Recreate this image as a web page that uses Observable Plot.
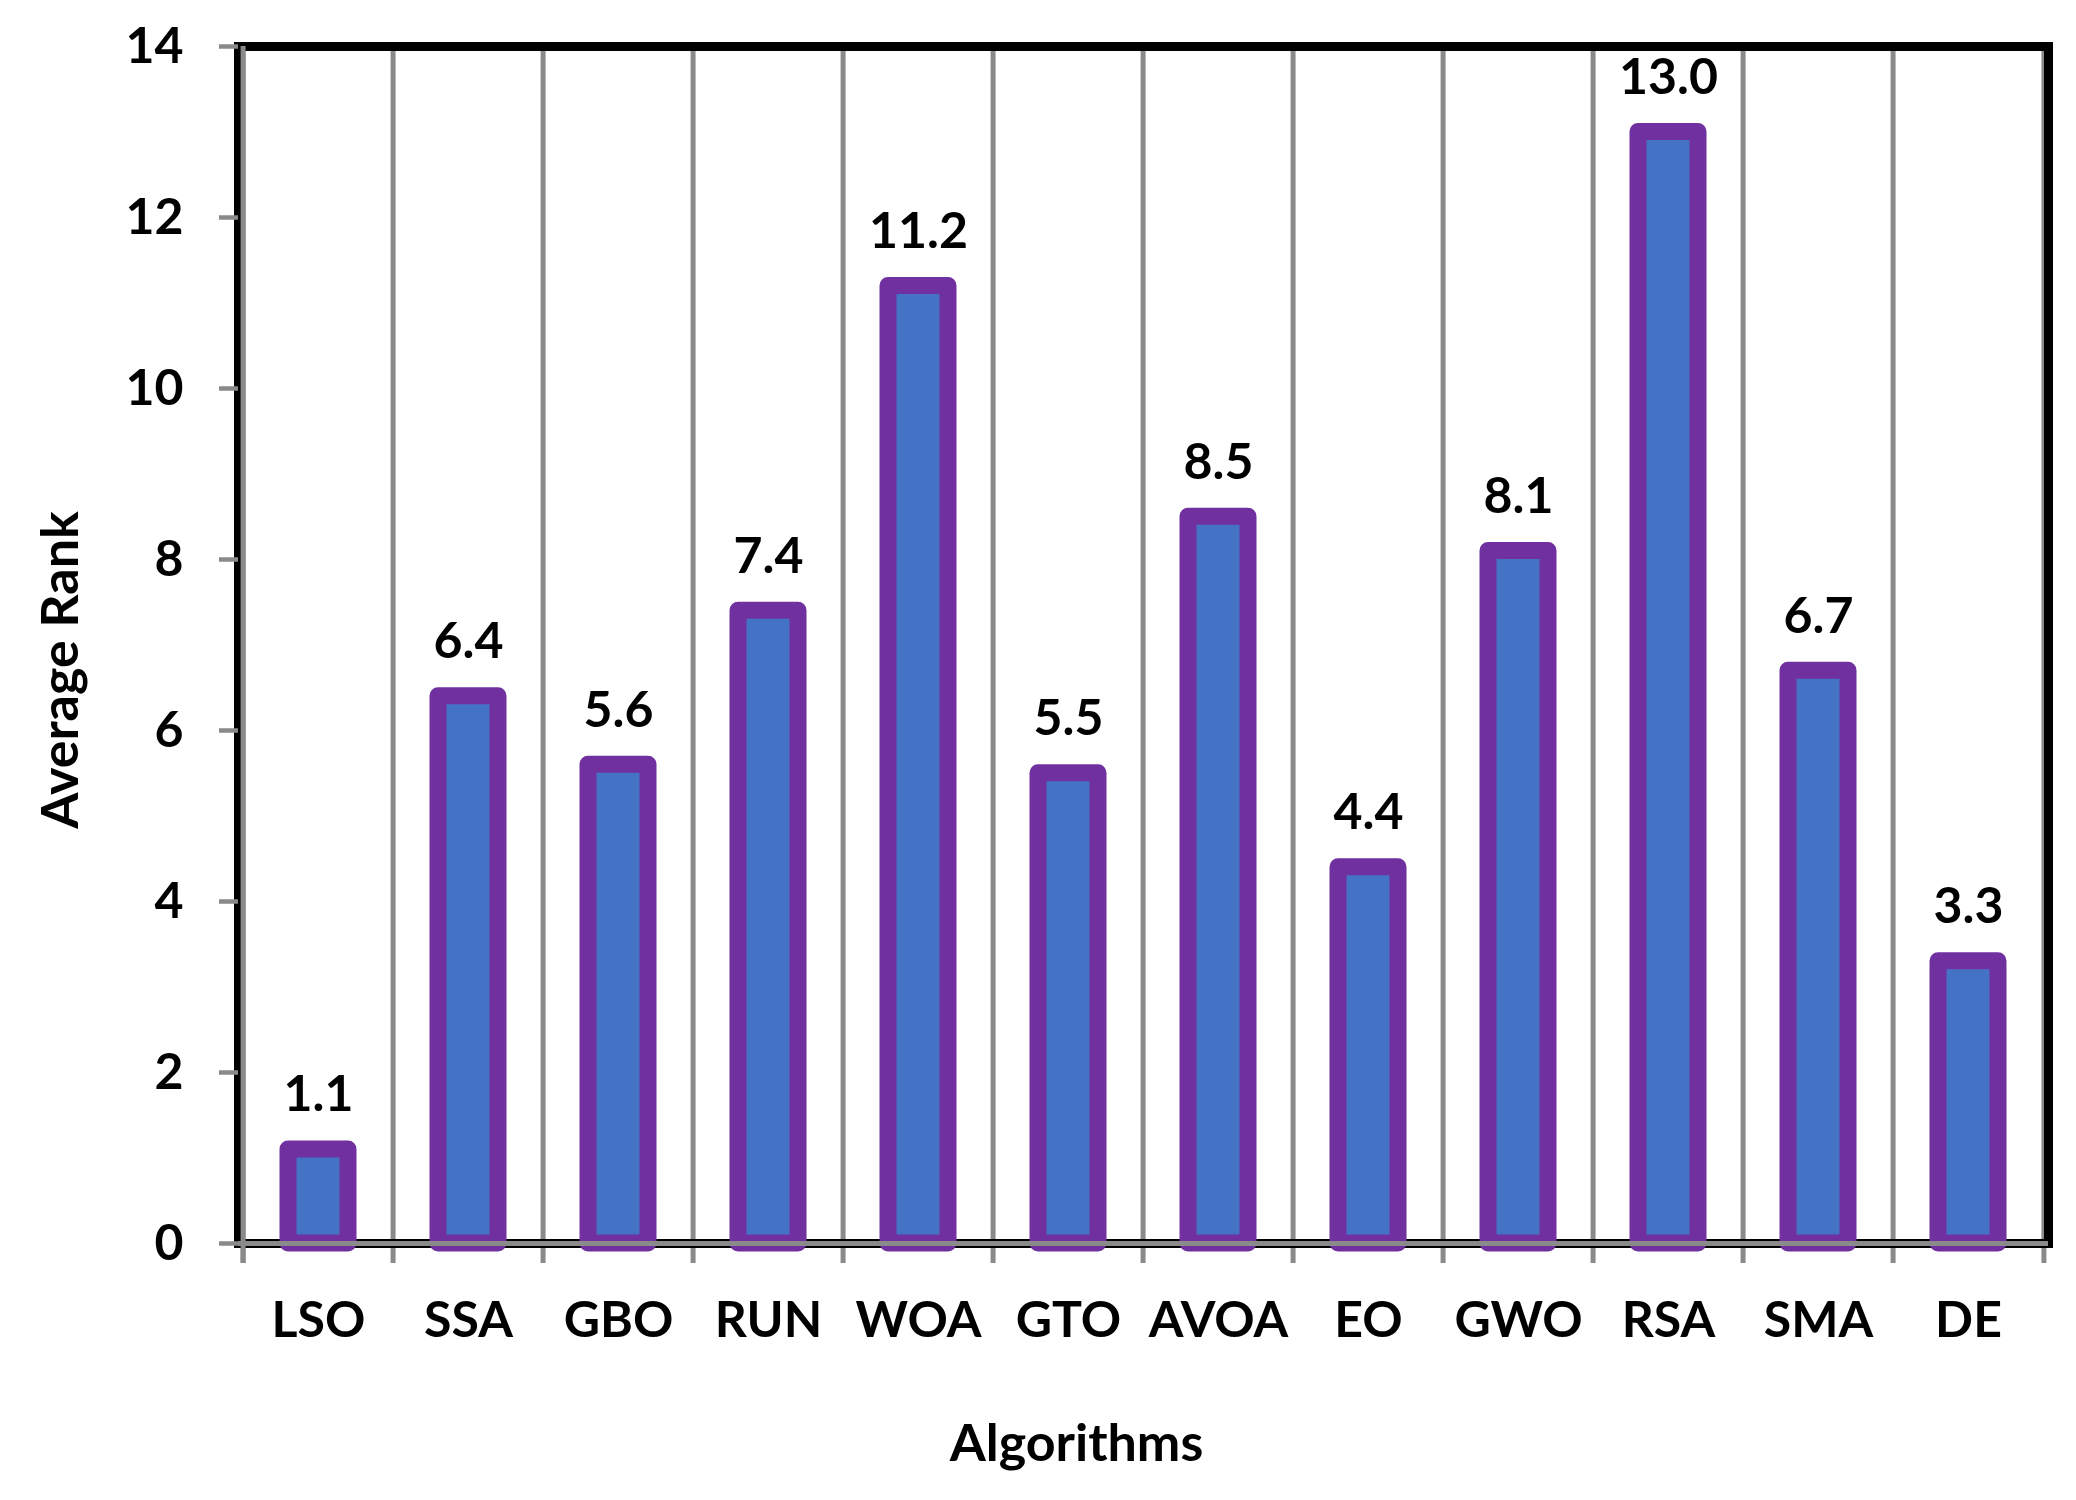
<!DOCTYPE html>
<html>
<head>
<meta charset="utf-8">
<script src="https://cdn.jsdelivr.net/npm/d3@7"></script>
<script src="https://cdn.jsdelivr.net/npm/@observablehq/plot@0.6"></script>
<style>
  html, body { margin: 0; padding: 0; background: #ffffff; }
  #chart svg { display: block; }
</style>
</head>
<body>
<div id="chart"></div>
<script>
const categories = ["LSO", "SSA", "GBO", "RUN", "WOA", "GTO", "AVOA", "EO", "GWO", "RSA", "SMA", "DE"];
const values = [1.1, 6.4, 5.6, 7.4, 11.2, 5.5, 8.5, 4.4, 8.1, 13.0, 6.7, 3.3];
const yTicks = [0, 2, 4, 6, 8, 10, 12, 14];
const xTitle = "Algorithms";
const yTitle = "Average Rank";

const data = categories.map((name, i) => ({name, value: values[i]}));

const W = 2076, H = 1500;
const ML = 238, MR = 28, MT = 46, MB = 257;
const bw = (W - ML - MR) / categories.length;
const gray = "#8a8a8a";
const fmt = d3.format(".1f");
const FS = 50;

const chart = Plot.plot({
  width: W,
  height: H,
  marginLeft: ML,
  marginRight: MR,
  marginTop: MT,
  marginBottom: MB,
  style: {fontFamily: "Lato, 'Open Sans', sans-serif", background: "#ffffff", overflow: "visible"},
  x: {domain: categories, padding: 0, axis: null},
  y: {domain: [0, 14]},
  marks: [
    // vertical gridlines at category boundaries
    Plot.ruleX(categories, {x: d => d, dx: -bw / 2, y1: 14, y2: 0, insetBottom: -20, stroke: gray, strokeWidth: 5}),
    Plot.ruleX([categories[categories.length - 1]], {x: d => d, dx: bw / 2, y1: 14, y2: 0, insetBottom: -20, stroke: gray, strokeWidth: 5}),
    // plot area border
    Plot.frame({stroke: "#000000", strokeWidth: 9}),
    // bars
    Plot.barY(data, {x: "name", y: "value", fill: "#4472c4", stroke: "#7030a0", strokeWidth: 17, strokeLinejoin: "round", insetLeft: 45, insetRight: 45}),
    // axis lines
    Plot.ruleX([categories[0]], {x: d => d, dx: -bw / 2, y1: 14, y2: 0, insetBottom: -20, stroke: gray, strokeWidth: 5}),
    Plot.ruleY([0], {stroke: gray, strokeWidth: 5}),
    Plot.axisY({ticks: yTicks, tickSize: 19, tickPadding: 36, stroke: gray, strokeWidth: 4.5, fontSize: FS, fontWeight: "bold", label: null}),
    // value labels
    Plot.text(data, {x: "name", y: "value", text: d => fmt(d.value), dy: -38, lineAnchor: "bottom", fontSize: FS, fontWeight: "bold", fill: "#000000"}),
    // category labels
    Plot.text(categories, {x: d => d, frameAnchor: "bottom", dy: 93, lineAnchor: "bottom", fontSize: FS, fontWeight: "bold", fill: "#000000"}),
    // axis titles
    Plot.text([xTitle], {frameAnchor: "bottom", textAnchor: "middle", dx: -67, dy: 217, lineAnchor: "bottom", fontSize: 52, fontWeight: "bold", fill: "#000000"}),
    Plot.text([yTitle], {frameAnchor: "left", textAnchor: "middle", rotate: -90, dx: -177, dy: 25, fontSize: 52, fontWeight: "bold", fill: "#000000"})
  ]
});

document.getElementById("chart").appendChild(chart);
</script>
</body>
</html>
